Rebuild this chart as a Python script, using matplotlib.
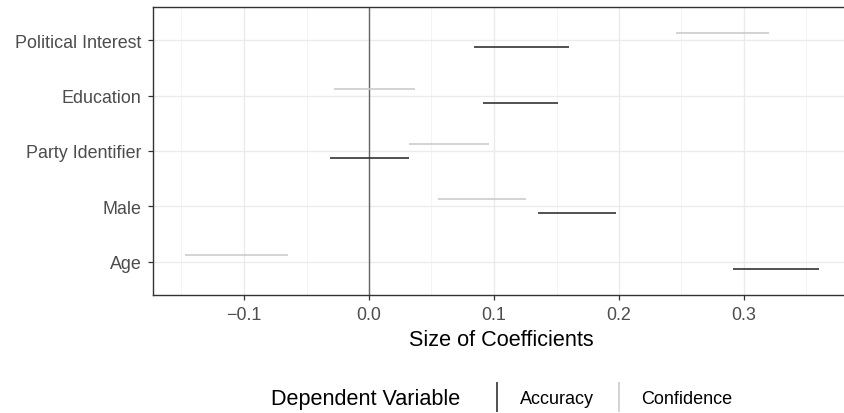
import matplotlib
matplotlib.use("Agg")
import matplotlib.pyplot as plt
from matplotlib.lines import Line2D
import numpy as np

plt.rcParams['font.family'] = ['Liberation Sans', 'DejaVu Sans']

# bottom to top
variables = ["Age", "Male", "Party Identifier", "Education", "Political Interest"]
acc_low = [0.291, 0.135, -0.031, 0.091, 0.084]
acc_high = [0.360, 0.198, 0.032, 0.151, 0.160]
conf_low = [-0.147, 0.055, 0.032, -0.028, 0.246]
conf_high = [-0.065, 0.126, 0.096, 0.037, 0.320]
x_ticks = [-0.1, 0.0, 0.1, 0.2, 0.3]
x_tick_labels = ["\u22120.1", "0.0", "0.1", "0.2", "0.3"]

dark = "#333333"
light = "#cccccc"

fig = plt.figure(figsize=(8.45, 4.14), dpi=100)
ax = fig.add_axes([153 / 845, 1 - 296 / 414, (856 - 153) / 845, (296 - 8) / 414])

y = np.arange(1, len(variables) + 1)
off = 0.125
ax.axvline(0, color="#666666", lw=1.0, zorder=2)
ax.hlines(y - off, acc_low, acc_high, color=dark, lw=1.2, zorder=3)
ax.hlines(y + off, conf_low, conf_high, color=light, lw=1.2, zorder=3)

ax.set_xlim(-0.1728, (856 - 369) / 1250)
ax.set_ylim(0.4, 5.6)
ax.set_yticks(y)
ax.set_yticklabels(variables)
ax.set_xticks(x_ticks)
ax.set_xticklabels(x_tick_labels)
ax.set_xticks(np.arange(-0.15, 0.4, 0.1), minor=True)

ax.grid(True, which="major", color="#ebebeb", lw=1.0, zorder=0)
ax.grid(True, which="minor", axis="x", color="#f2f2f2", lw=0.6, zorder=0)
ax.set_axisbelow(True)
ax.tick_params(which="major", length=3.6, width=0.9, color="#333333",
               labelsize=12.9, labelcolor="#4d4d4d", pad=4.5)
ax.tick_params(which="minor", length=0)
for s in ax.spines.values():
    s.set_color("#333333")
    s.set_linewidth(1.0)

ax.set_xlabel("Size of Coefficients", fontsize=15.6, color="black", va="center")
ax.xaxis.set_label_coords((501 - 153) / (856 - 153), (296 - 341) / 288)

fig.text(271 / 845, 1 - 400 / 414, "Dependent Variable", fontsize=15.6,
         va="center", ha="left")
handles = [Line2D([], [], color=dark, marker="|", ls="none", markersize=22, mew=1.2),
           Line2D([], [], color=light, marker="|", ls="none", markersize=22, mew=1.2)]
fig.legend(handles, ["Accuracy", "Confidence"], loc="center left",
           bbox_to_anchor=(488 / 845, 1 - 400 / 414), ncol=2, frameon=False,
           fontsize=13, handlelength=1.0, handletextpad=0.75, columnspacing=0.89,
           borderaxespad=0, borderpad=0)

fig.savefig("out.png", dpi=100)
